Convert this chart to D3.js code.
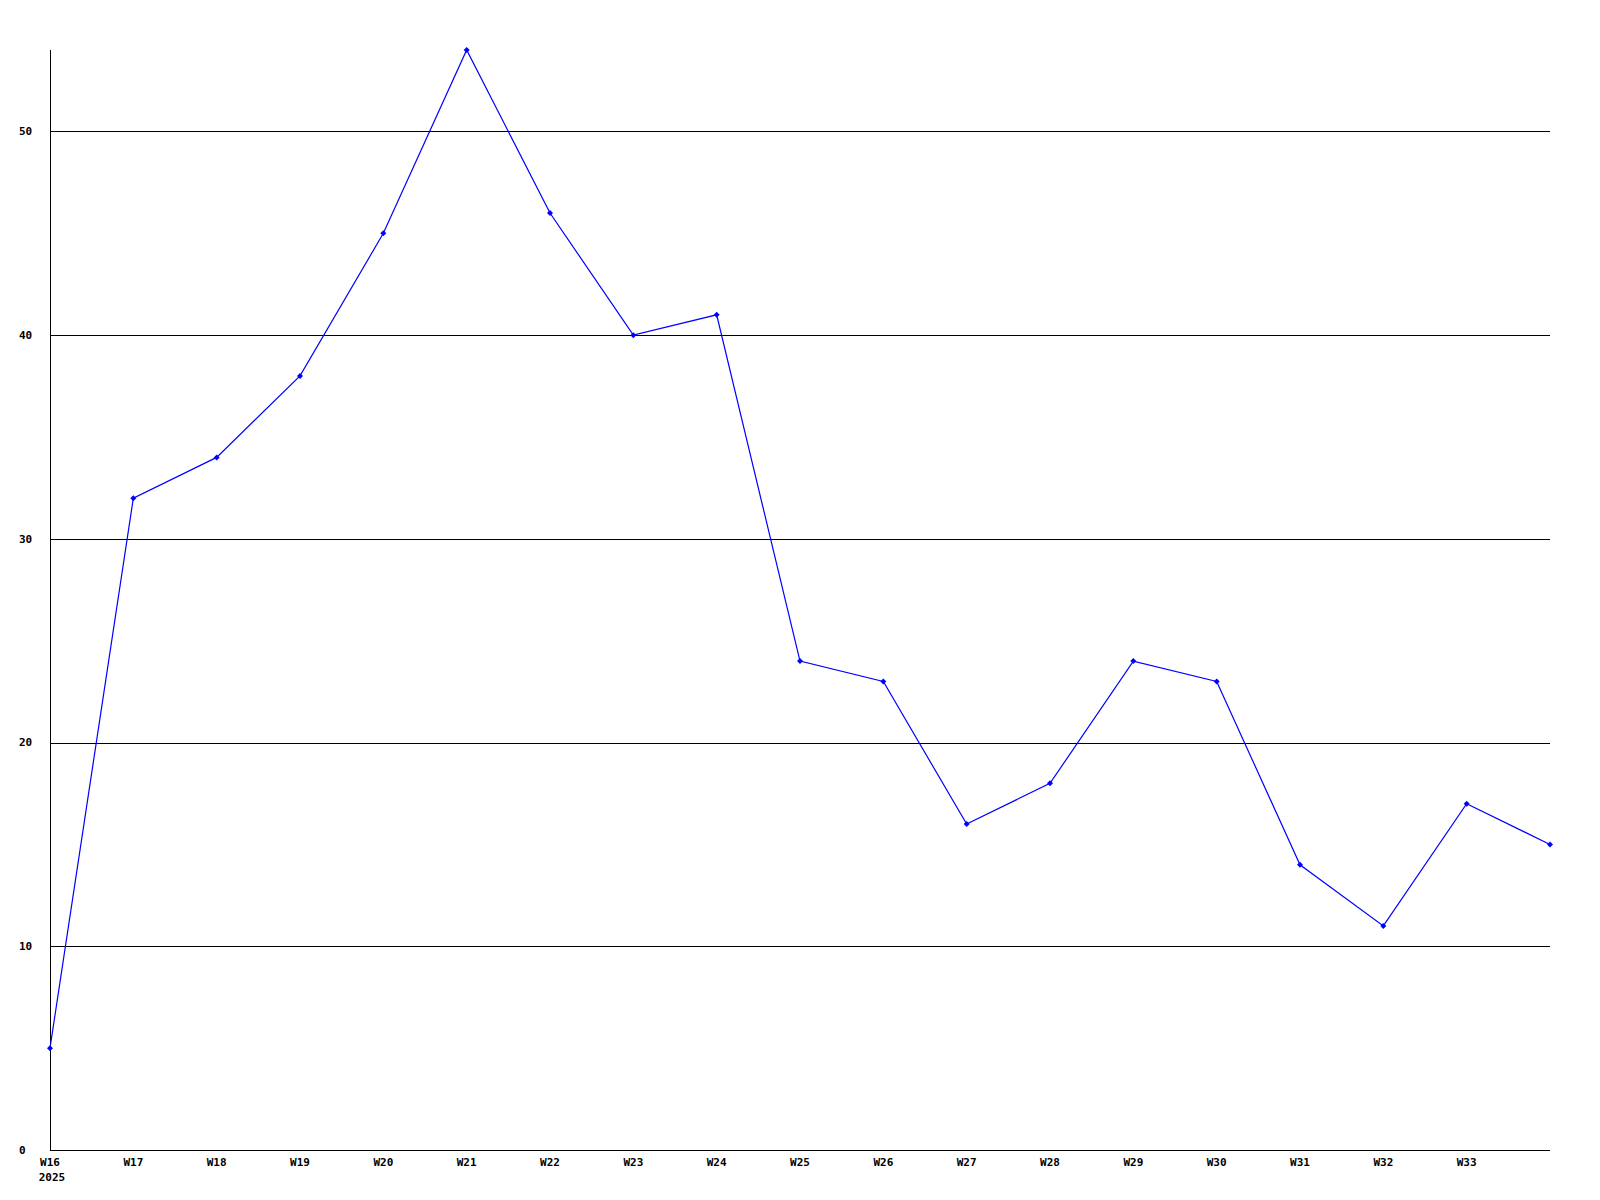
<!DOCTYPE html>
<html><head><meta charset="utf-8">
<script src="https://cdn.jsdelivr.net/npm/d3@7"></script>
<style>body{margin:0;background:#fff}svg{display:block}text{font-family:"DejaVu Sans Mono",monospace;font-weight:bold;font-size:11px;fill:#000}</style>
</head><body>
<svg id="c" width="1600" height="1200"></svg>
<script>
const weeks = ["W16","W17","W18","W19","W20","W21","W22","W23","W24","W25","W26","W27","W28","W29","W30","W31","W32","W33","W34"];
const values = [5,32,34,38,45,54,46,40,41,24,23,16,18,24,23,14,11,17,15];
const yTicks = [0,10,20,30,40,50];
const shownLabels = weeks.slice(0, 18);
const yearLabel = "2025";

const svg = d3.select("#c");
const L = 50, R = 1550, T = 50, B = 1150;
const x = d3.scalePoint().domain(weeks).range([L, R]);
const y = d3.scaleLinear().domain([0, 54]).range([B, T]);

// gridlines
svg.append("g").selectAll("line").data(yTicks.filter(d => d > 0)).join("line")
  .attr("x1", L).attr("x2", R)
  .attr("y1", d => Math.round(y(d)) + 0.5).attr("y2", d => Math.round(y(d)) + 0.5)
  .attr("stroke", "#000").attr("stroke-width", 1).attr("shape-rendering", "crispEdges");

// axes
svg.append("line").attr("x1", L + 0.5).attr("x2", L + 0.5).attr("y1", T).attr("y2", B + 0.5)
  .attr("stroke", "#000").attr("shape-rendering", "crispEdges");
svg.append("line").attr("x1", L).attr("x2", R).attr("y1", B + 0.5).attr("y2", B + 0.5)
  .attr("stroke", "#000").attr("shape-rendering", "crispEdges");

// y labels
svg.append("g").selectAll("text").data(yTicks).join("text")
  .attr("x", 19).attr("y", d => y(d)).attr("dy", "0.35em")
  .text(d => d);

// x labels
svg.append("g").selectAll("text").data(shownLabels).join("text")
  .attr("x", d => x(d)).attr("y", B + 12).attr("dy", "0.35em")
  .attr("text-anchor", "middle").text(d => d);
svg.append("text").attr("x", x(weeks[0]) + 2).attr("y", B + 27).attr("dy", "0.35em")
  .attr("text-anchor", "middle").text(yearLabel);

// line
const pts = weeks.map((w, i) => [x(w), y(values[i])]);
svg.append("path").attr("d", d3.line()(pts))
  .attr("fill", "none").attr("stroke", "#0000ff").attr("stroke-width", 1.2);

// markers
svg.append("g").selectAll("path").data(pts).join("path")
  .attr("d", d => `M${d[0]},${d[1]-3}L${d[0]+3},${d[1]}L${d[0]},${d[1]+3}L${d[0]-3},${d[1]}Z`)
  .attr("fill", "#0000ff");
</script>
</body></html>
